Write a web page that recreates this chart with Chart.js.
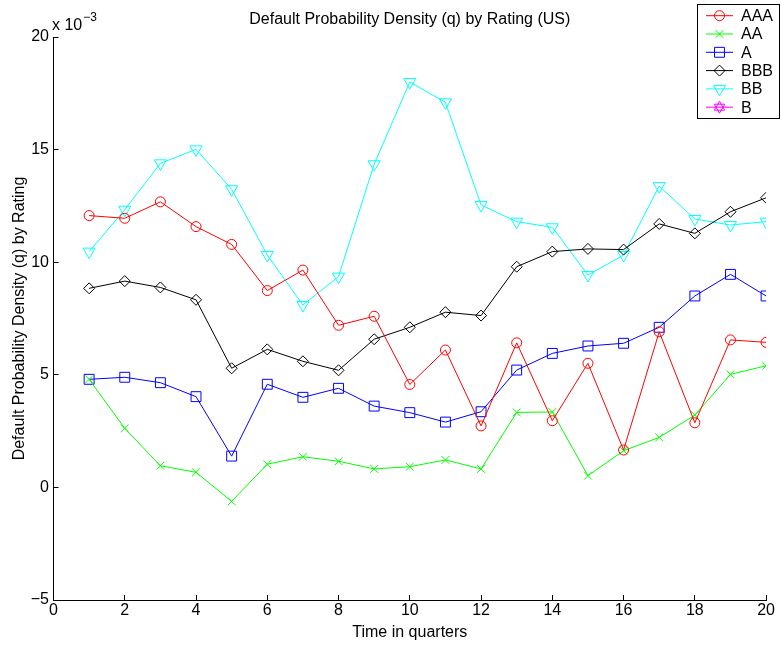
<!DOCTYPE html>
<html>
<head>
<meta charset="utf-8">
<script src="https://cdn.jsdelivr.net/npm/chart.js@4.4.0/dist/chart.umd.min.js"></script>
<style>
  html, body { margin: 0; padding: 0; background: #fff; }
  #wrap { position: relative; width: 781px; height: 645px; }
</style>
</head>
<body>
<div id="wrap"><canvas id="chart"></canvas></div>
<script>
// values are in units of 10^-3
const quarters = [1, 2, 3, 4, 5, 6, 7, 8, 9, 10, 11, 12, 13, 14, 15, 16, 17, 18, 19, 20];
const ratingNames = ['AAA', 'AA', 'A', 'BBB', 'BB', 'B'];
const aaa = [12.07, 11.95, 12.68, 11.58, 10.79, 8.74, 9.65, 7.20, 7.60, 4.57, 6.10, 2.73, 6.42, 2.96, 5.51, 1.66, 6.91, 2.87, 6.55, 6.44];
const aa  = [4.80, 2.62, 0.96, 0.67, -0.62, 1.03, 1.36, 1.16, 0.82, 0.92, 1.22, 0.82, 3.33, 3.35, 0.52, 1.63, 2.22, 3.21, 5.02, 5.40];
const a   = [4.80, 4.89, 4.65, 4.03, 1.39, 4.58, 4.00, 4.40, 3.61, 3.32, 2.90, 3.36, 5.21, 5.95, 6.28, 6.40, 7.11, 8.50, 9.46, 8.50];
const bbb = [8.84, 9.16, 8.88, 8.33, 5.29, 6.13, 5.60, 5.20, 6.58, 7.11, 7.78, 7.63, 9.80, 10.47, 10.59, 10.56, 11.70, 11.28, 12.24, 12.86];
const bb  = [10.47, 12.33, 14.39, 15.01, 13.24, 10.32, 8.10, 9.36, 14.35, 18.00, 17.10, 12.54, 11.80, 11.55, 9.43, 10.32, 13.38, 11.92, 11.65, 11.80];
const b   = []; // no points of B fall inside the plotted range
const xTicks = [0, 2, 4, 6, 8, 10, 12, 14, 16, 18, 20];
const yTicks = [-5, 0, 5, 10, 15, 20];

const FONT = 'Liberation Sans, Arial, Helvetica, sans-serif';

// one style entry per rating, same order as ratingNames
const styles = [
    { color: '#ff0000', pointStyle: 'circle',   radius: 5,   rotation: 0 },
    { color: '#00ff00', pointStyle: 'crossRot', radius: 5.5, rotation: 0 },
    { color: '#0000ff', pointStyle: 'rect',     radius: 7,   rotation: 0 },
    { color: '#000000', pointStyle: 'rectRot',  radius: 5.5, rotation: 0 },
    { color: '#00ffff', pointStyle: 'triangle', radius: 7,   rotation: 180 },
    { color: '#ff00ff', pointStyle: 'hexagram', radius: 6,   rotation: 0 }
];
const seriesValues = [aaa, aa, a, bbb, bb, b];

const datasets = seriesValues.map((vals, i) => ({
    label: ratingNames[i],
    data: vals.map((v, j) => ({ x: quarters[j], y: v })),
    borderColor: styles[i].color,
    backgroundColor: 'rgba(0,0,0,0)',
    borderWidth: 1,
    tension: 0,
    pointStyle: styles[i].pointStyle === 'hexagram' ? 'star' : styles[i].pointStyle,
    pointRadius: styles[i].radius,
    pointRotation: styles[i].rotation,
    pointBorderColor: styles[i].color,
    pointBackgroundColor: 'rgba(0,0,0,0)',
    pointBorderWidth: 1,
    pointHoverRadius: styles[i].radius
}));

function drawHexagram(ctx, x, y, r) {
    for (let k = 0; k < 2; k++) {
        ctx.beginPath();
        for (let m = 0; m < 3; m++) {
            const ang = (k === 0 ? -Math.PI / 2 : Math.PI / 2) + m * 2 * Math.PI / 3;
            const px = x + r * Math.cos(ang), py = y + r * Math.sin(ang);
            if (m === 0) ctx.moveTo(px, py); else ctx.lineTo(px, py);
        }
        ctx.closePath();
        ctx.stroke();
    }
}

// title, exponent note and the boxed legend, drawn the MATLAB way
const matlabDecor = {
    id: 'matlabDecor',
    afterDraw(chart) {
        const ctx = chart.ctx;
        const area = chart.chartArea;
        ctx.save();
        ctx.fillStyle = '#000';
        ctx.font = '16px ' + FONT;
        ctx.textAlign = 'center';
        ctx.textBaseline = 'alphabetic';
        ctx.fillText('Default Probability Density (q) by Rating (US)', (area.left + area.right) / 2, 24);

        ctx.textAlign = 'left';
        ctx.fillText('x 10', 52, 30);
        const w = ctx.measureText('x 10').width;
        ctx.font = '12px ' + FONT;
        ctx.fillText('\u22123', 52 + w + 1, 21);

        // legend box
        const bx = 697.5, by = 4.5, bw = 82, bh = 114;
        ctx.fillStyle = '#fff';
        ctx.fillRect(bx, by, bw, bh);
        ctx.strokeStyle = '#000';
        ctx.lineWidth = 1;
        ctx.strokeRect(bx, by, bw, bh);
        ctx.font = '16px ' + FONT;
        ctx.textBaseline = 'middle';
        ratingNames.forEach((name, i) => {
            const y = 15.7 + i * 18.3;
            const st = styles[i];
            ctx.strokeStyle = st.color;
            ctx.lineWidth = 1;
            ctx.beginPath();
            ctx.moveTo(706, y);
            ctx.lineTo(733, y);
            ctx.stroke();
            if (st.pointStyle === 'hexagram') {
                drawHexagram(ctx, 719.5, y, st.radius);
            } else {
                ctx.fillStyle = 'rgba(0,0,0,0)';
                Chart.helpers.drawPoint(ctx, {
                    pointStyle: st.pointStyle, radius: st.radius,
                    rotation: st.rotation, borderWidth: 1
                }, 719.5, y);
            }
            ctx.fillStyle = '#000';
            ctx.fillText(name, 741, y + 1);
        });
        ctx.restore();
    }
};

new Chart(document.getElementById('chart'), {
    type: 'line',
    data: { datasets: datasets },
    plugins: [matlabDecor],
    options: {
        responsive: true,
        maintainAspectRatio: false,
        animation: false,
        layout: { padding: { top: 37, right: 12.5, left: 0, bottom: 0 } },
        plugins: {
            legend: { display: false },
            title: { display: false },
            tooltip: { enabled: false }
        },
        scales: {
            x: {
                type: 'linear',
                min: 0,
                max: 20,
                afterFit: (scale) => { scale.height = 45; },
                afterBuildTicks: (scale) => { scale.ticks = xTicks.map(v => ({ value: v })); },
                ticks: { color: '#000', font: { family: FONT, size: 16 }, padding: 6, maxRotation: 0, autoSkip: false },
                grid: { drawOnChartArea: false, tickLength: -5, color: '#000' },
                border: { display: true, color: '#000', width: 1 },
                title: {
                    display: true, text: 'Time in quarters', color: '#000',
                    font: { family: FONT, size: 16 }, padding: { top: 0, bottom: 3 }
                }
            },
            y: {
                min: -5,
                max: 20,
                afterFit: (scale) => { scale.width = 53.5; },
                afterBuildTicks: (scale) => { scale.ticks = yTicks.map(v => ({ value: v })); },
                ticks: {
                    color: '#000', font: { family: FONT, size: 16 }, padding: 9.5,
                    callback: (v) => String(v).replace('-', '\u2212')
                },
                grid: { drawOnChartArea: false, tickLength: -5, color: '#000' },
                border: { display: true, color: '#000', width: 1 },
                title: {
                    display: true, text: 'Default Probability Density (q) by Rating', color: '#000',
                    font: { family: FONT, size: 16 }, padding: { top: 10, bottom: 0 }
                }
            }
        }
    }
});
</script>
</body>
</html>
